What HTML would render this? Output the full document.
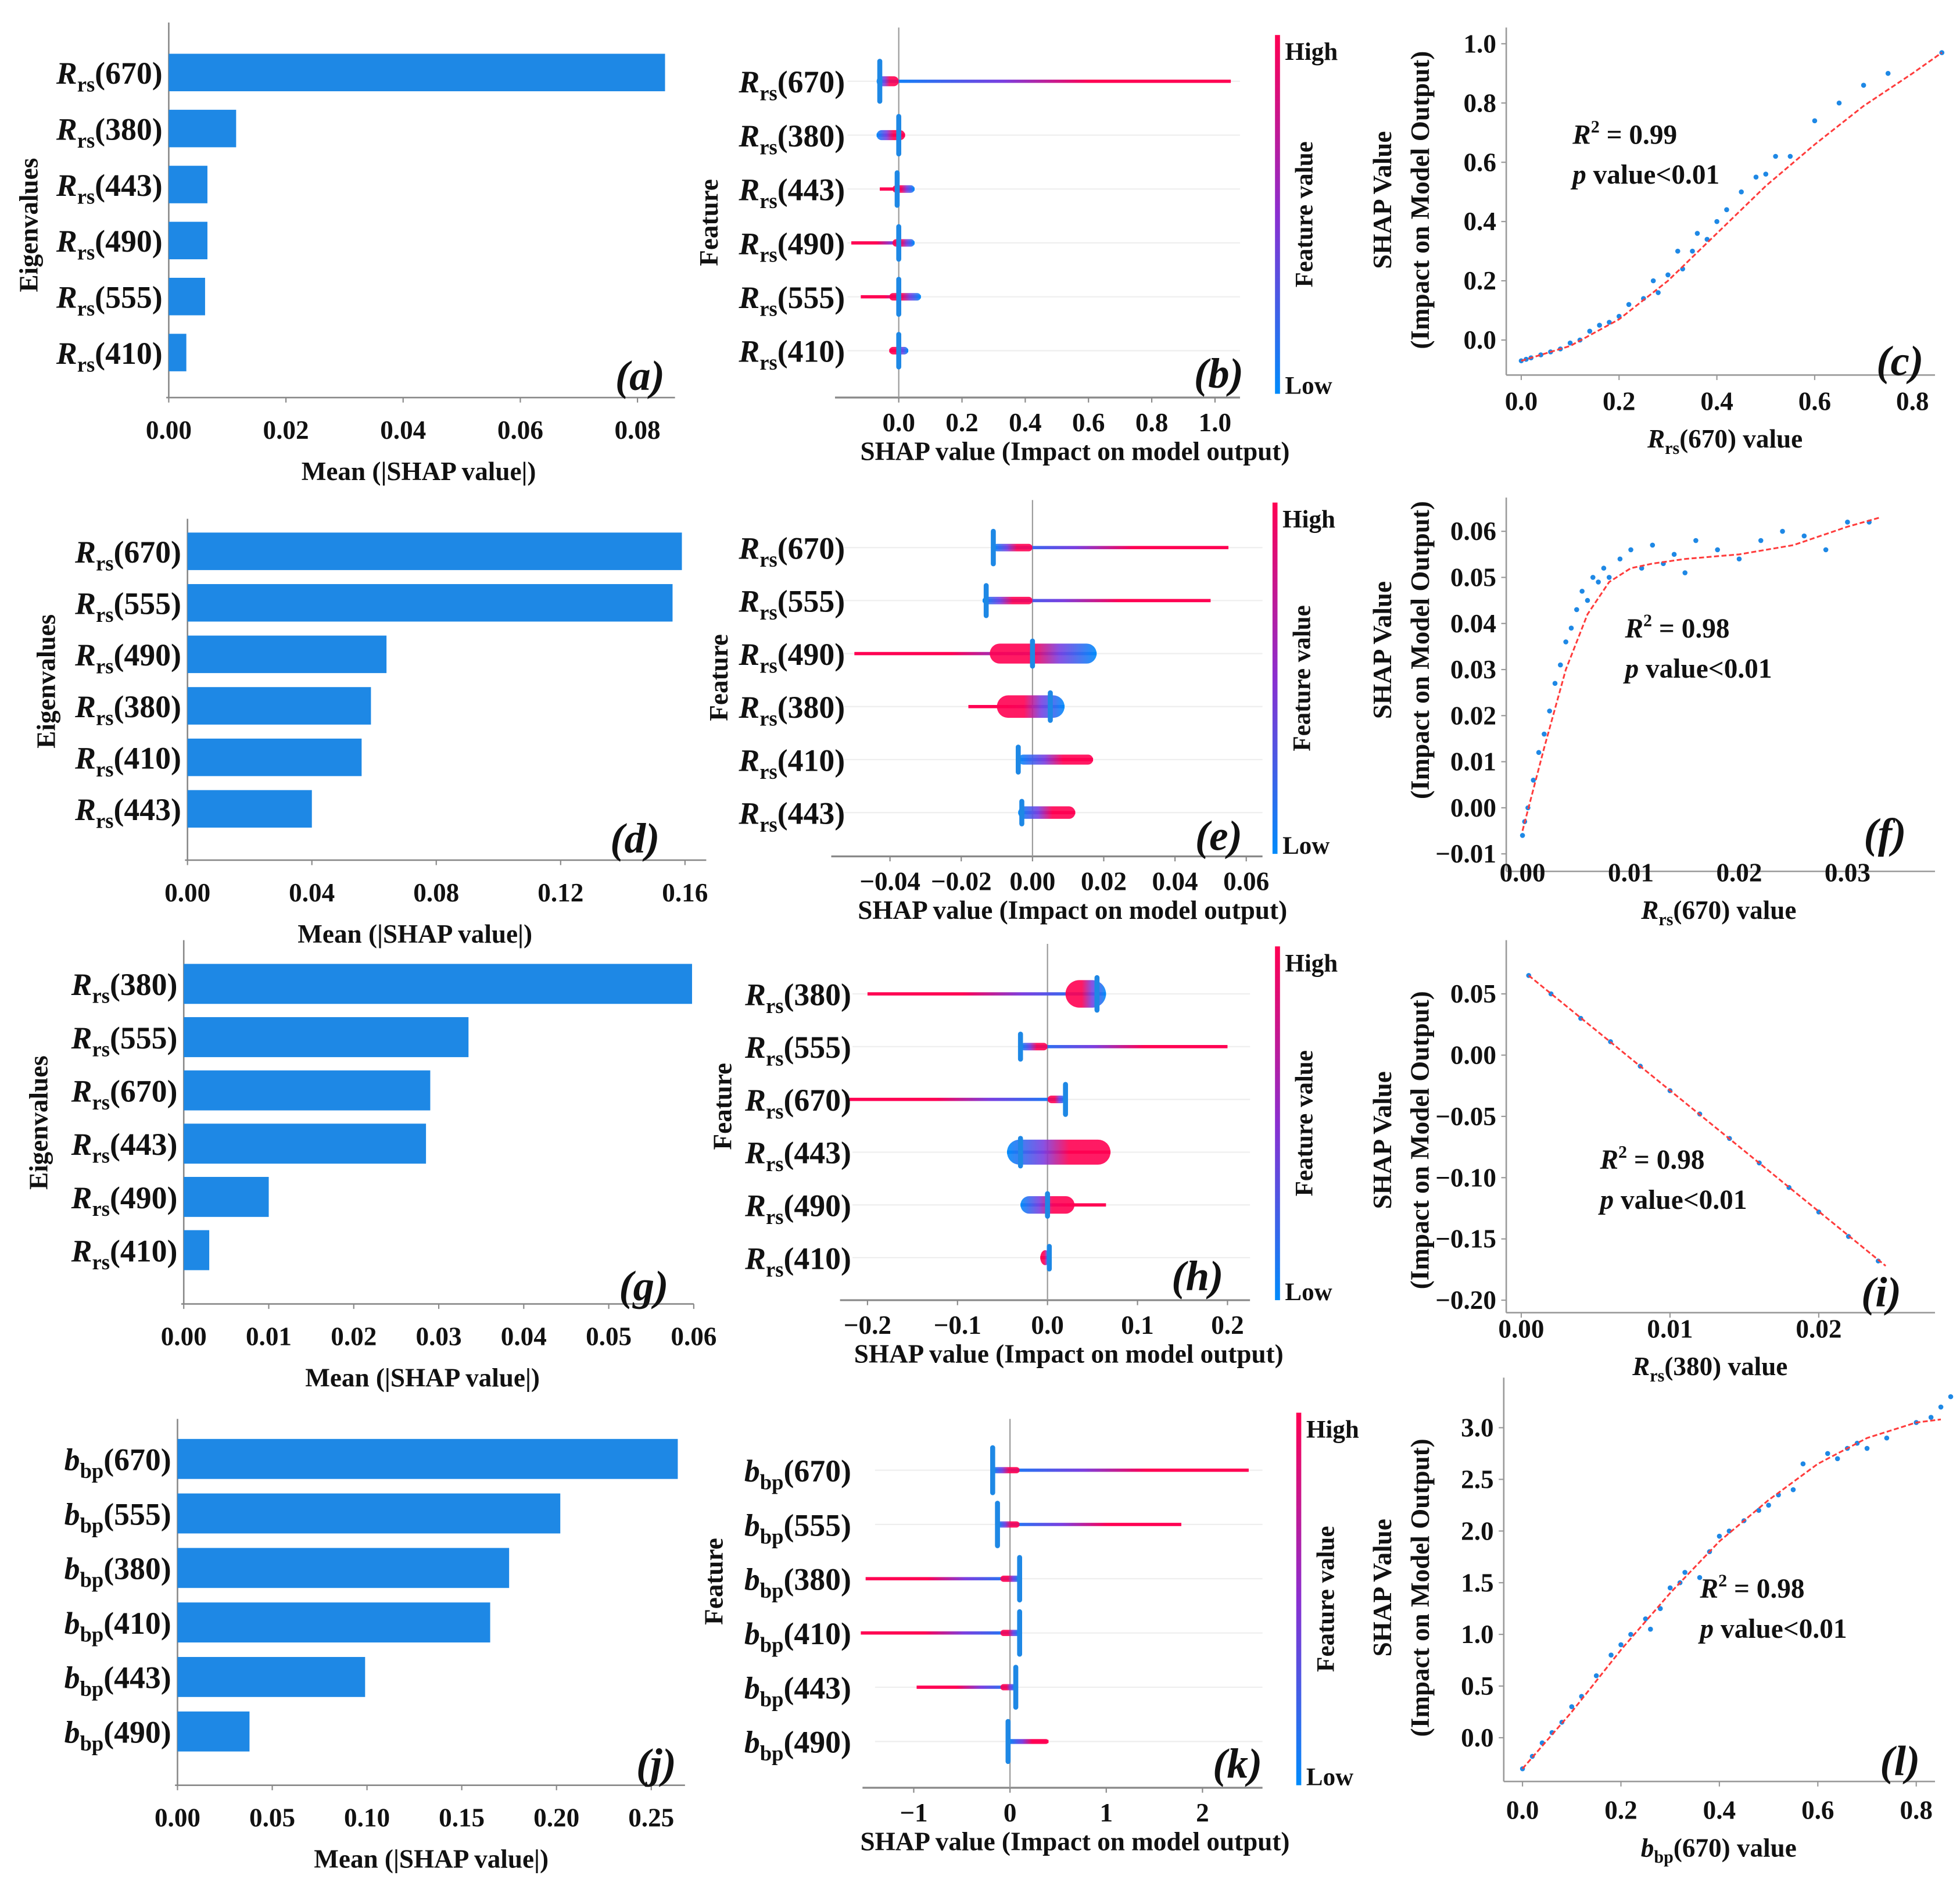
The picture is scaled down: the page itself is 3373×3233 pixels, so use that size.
<!DOCTYPE html>
<html><head><meta charset="utf-8"><style>
html,body{margin:0;padding:0;background:#fff}
svg{display:block}
text{font-family:"Liberation Serif",serif;font-weight:bold;fill:#111}
</style></head><body>
<svg id="fig" width="3373" height="3233" viewBox="0 0 1568 1503" preserveAspectRatio="none" xmlns="http://www.w3.org/2000/svg">
<defs>
<linearGradient id="cb" x1="0" y1="1" x2="0" y2="0"><stop offset="0" stop-color="#008bfb"/><stop offset="0.5" stop-color="#8a2fd0"/><stop offset="1" stop-color="#ff0052"/></linearGradient>
<linearGradient id="gR" x1="0" y1="0" x2="1" y2="0"><stop offset="0" stop-color="#008bfb"/><stop offset="0.35" stop-color="#7a3fe0"/><stop offset="0.6" stop-color="#ff0052"/><stop offset="1" stop-color="#ff0052"/></linearGradient>
<linearGradient id="gL" x1="0" y1="0" x2="1" y2="0"><stop offset="0" stop-color="#ff0052"/><stop offset="0.4" stop-color="#ff0052"/><stop offset="0.65" stop-color="#7a3fe0"/><stop offset="1" stop-color="#008bfb"/></linearGradient>
</defs>
</svg>
<script>
// ===== DATA =====
const barLabelsA=['670','380','443','490','555','410'];
const barValuesA=[0.0847,0.0115,0.0066,0.0066,0.0062,0.003];
const barTicksA=[0,0.02,0.04,0.06,0.08];
const barLabelsD=['670','555','490','380','410','443'];
const barValuesD=[0.159,0.156,0.064,0.059,0.056,0.040];
const barTicksD=[0,0.04,0.08,0.12,0.16];
const barLabelsG=['380','555','670','443','490','410'];
const barValuesG=[0.0598,0.0335,0.029,0.0285,0.010,0.003];
const barTicksG=[0,0.01,0.02,0.03,0.04,0.05,0.06];
const barLabelsJ=['670','555','380','410','443','490'];
const barValuesJ=[0.264,0.202,0.175,0.165,0.099,0.038];
const barTicksJ=[0,0.05,0.10,0.15,0.20,0.25];

// beeswarm rows: [min, max, spikeX, blobLo, blobHi, blobH, spikeH, redSide(1 right,-1 left)]
const beeLabelsB=['670','380','443','490','555','410'];
const beeRowsB=[[-0.06,1.05,-0.06,-0.07,0.0,8,36,1],[-0.07,0.02,0.0,-0.07,0.02,8,34,1],[-0.06,0.05,-0.005,-0.02,0.05,6,30,-1],[-0.15,0.05,0.0,-0.02,0.05,6,30,-1],[-0.12,0.07,0.0,-0.03,0.07,6,32,-1],[-0.03,0.03,0.0,-0.03,0.03,6,30,-1]];
const beeTicksB=[0,0.2,0.4,0.6,0.8,1.0];
const beeLabelsE=['670','555','490','380','410','443'];
const beeRowsE=[[-0.011,0.055,-0.011,-0.011,0.0,6,30,1],[-0.014,0.05,-0.013,-0.014,0.0,6,28,1],[-0.05,0.018,0.0,-0.012,0.018,16,24,-1],[-0.018,0.009,0.005,-0.01,0.009,18,26,-1],[-0.004,0.017,-0.004,-0.004,0.017,8,24,1],[-0.004,0.012,-0.003,-0.004,0.012,10,22,1]];
const beeTicksE=[-0.04,-0.02,0,0.02,0.04,0.06];
const beeTickTextE=['\u22120.04','\u22120.02','0.00','0.02','0.04','0.06'];
const beeLabelsH=['380','555','670','443','490','410'];
const beeRowsH=[[-0.2,0.065,0.055,0.02,0.065,22,30,-1],[-0.03,0.2,-0.03,-0.03,0.0,6,24,1],[-0.22,0.02,0.02,0.0,0.02,6,28,-1],[-0.045,0.07,-0.03,-0.045,0.07,20,26,1],[-0.03,0.065,0.0,-0.03,0.03,14,22,1],[-0.008,0.003,0.002,-0.008,0.003,12,22,-1]];
const beeTicksH=[-0.2,-0.1,0,0.1,0.2];
const beeTickTextH=['\u22120.2','\u22120.1','0.0','0.1','0.2'];
const beeLabelsK=['670','555','380','410','443','490'];
const beeRowsK=[[-0.18,2.48,-0.18,-0.18,0.1,5,40,1],[-0.13,1.78,-0.13,-0.13,0.1,5,38,1],[-1.5,0.1,0.1,-0.1,0.1,5,38,-1],[-1.55,0.1,0.1,-0.1,0.1,5,38,-1],[-0.97,0.06,0.06,-0.1,0.06,5,36,-1],[-0.02,0.4,-0.02,-0.02,0.4,4,36,1]];
const beeTicksK=[-1,0,1,2];
const beeTickTextK=['\u22121','0','1','2'];

// scatter panels
const scXc=[0,0.01,0.02,0.04,0.06,0.08,0.1,0.12,0.14,0.16,0.18,0.2,0.22,0.25,0.27,0.28,0.3,0.32,0.33,0.35,0.36,0.38,0.4,0.42,0.45,0.48,0.5,0.52,0.55,0.6,0.65,0.7,0.75,0.86];
const scYc=[-0.07,-0.065,-0.06,-0.05,-0.04,-0.03,-0.01,0.0,0.03,0.05,0.06,0.08,0.12,0.14,0.2,0.16,0.22,0.3,0.24,0.3,0.36,0.34,0.4,0.44,0.5,0.55,0.56,0.62,0.62,0.74,0.8,0.86,0.9,0.97];
const fitXc=[0,0.1,0.2,0.3,0.4,0.5,0.6,0.7,0.8,0.86];
const fitYc=[-0.07,-0.02,0.07,0.2,0.36,0.52,0.66,0.79,0.9,0.97];
const scXf=[0,0.0002,0.0005,0.001,0.0015,0.002,0.0025,0.003,0.0035,0.004,0.0045,0.005,0.0055,0.006,0.0065,0.007,0.0075,0.008,0.009,0.01,0.011,0.012,0.013,0.014,0.015,0.016,0.018,0.02,0.022,0.024,0.026,0.028,0.03,0.032];
const scYf=[-0.006,-0.003,0.0,0.006,0.012,0.016,0.021,0.027,0.031,0.036,0.039,0.043,0.047,0.045,0.05,0.049,0.052,0.05,0.054,0.056,0.052,0.057,0.053,0.055,0.051,0.058,0.056,0.054,0.058,0.06,0.059,0.056,0.062,0.062];
const fitXf=[0,0.002,0.004,0.006,0.008,0.01,0.012,0.015,0.02,0.025,0.03,0.033];
const fitYf=[-0.005,0.013,0.03,0.042,0.049,0.052,0.053,0.054,0.055,0.057,0.061,0.063];
const scXi=[0.0005,0.002,0.004,0.006,0.008,0.01,0.012,0.014,0.016,0.018,0.02,0.022,0.024];
const scYi=[0.065,0.05,0.03,0.011,-0.009,-0.029,-0.048,-0.068,-0.088,-0.108,-0.128,-0.148,-0.168];
const fitXi=[0.0005,0.0245];
const fitYi=[0.065,-0.172];
const scXl=[0,0.02,0.04,0.06,0.08,0.1,0.12,0.15,0.18,0.2,0.22,0.25,0.26,0.28,0.3,0.32,0.33,0.36,0.38,0.4,0.42,0.45,0.48,0.5,0.52,0.55,0.57,0.62,0.64,0.66,0.68,0.7,0.74,0.8,0.83,0.85,0.87];
const scYl=[-0.3,-0.18,-0.05,0.05,0.15,0.3,0.4,0.6,0.8,0.9,1.0,1.15,1.05,1.25,1.45,1.5,1.6,1.55,1.8,1.95,2.0,2.1,2.2,2.25,2.35,2.4,2.65,2.75,2.7,2.8,2.85,2.8,2.9,3.05,3.1,3.2,3.3];
const fitXl=[0,0.1,0.2,0.3,0.4,0.5,0.6,0.7,0.8,0.85];
const fitYl=[-0.3,0.25,0.85,1.4,1.9,2.3,2.65,2.9,3.05,3.08];

// ===== DRAWING =====
const NS='http://www.w3.org/2000/svg';
const svg=document.getElementById('fig');
function el(tag,attrs,name,parent){
  const e=document.createElementNS(NS,tag);
  for(const k in attrs)e.setAttribute(k,attrs[k]);
  
  
  (parent||svg).appendChild(e);return e;
}
function txt(x,y,s,size,anchor,name,extra){
  const t=el('text',Object.assign({x:x,y:y,'font-size':size,'text-anchor':anchor||'middle'},extra||{}),name);
  t.textContent=s;return t;
}
function featLabel(x,y,sym,sub,wl,size,name){
  const t=el('text',{x:x,y:y,'font-size':size,'text-anchor':'end'},name);
  const a=document.createElementNS(NS,'tspan');a.setAttribute('font-style','italic');a.textContent=sym;t.appendChild(a);
  const b=document.createElementNS(NS,'tspan');b.setAttribute('font-size',size*0.68);b.setAttribute('dy',size*0.25);b.textContent=sub;t.appendChild(b);
  const c=document.createElementNS(NS,'tspan');c.setAttribute('dy',-size*0.25);c.textContent='('+wl+')';t.appendChild(c);
  return t;
}
function panelLetter(x,y,l){
  txt(x,y,'('+l+')',34,'middle','panel-label-'+l,{'font-style':'italic'});
}
function linearScale(d0,d1,r0,r1){return v=>r0+(v-d0)/(d1-d0)*(r1-r0);}

function barPanel(o){
  const sx=linearScale(0,o.tv,o.x0,o.tx);
  el('line',{x1:o.x0,y1:o.top,x2:o.x0,y2:o.axisY,stroke:'#888','stroke-width':1.2},'y-axis-line-'+o.id);
  el('line',{x1:o.x0-2,y1:o.axisY,x2:o.xEnd,y2:o.axisY,stroke:'#888','stroke-width':1.2},'x-axis-line-'+o.id);
  o.labels.forEach((lb,i)=>{
    const y=o.y0+i*o.dy;
    el('rect',{x:o.x0,y:y-o.bh/2,width:sx(o.values[i])-o.x0,height:o.bh,fill:'#1e88e5'},'bar-'+o.id+'-'+lb);
    featLabel(o.x0-5,y+9,o.sym,o.sub,lb,25,'feature-label-'+o.id+'-'+lb);
  });
  o.ticks.forEach(t=>{
    el('line',{x1:sx(t),y1:o.axisY,x2:sx(t),y2:o.axisY+4,stroke:'#888'},'x-tick-'+o.id);
    txt(sx(t),o.axisY+33,t.toFixed(2),21,'middle','x-tick-label-'+o.id);
  });
  txt(o.titleX,o.axisY+66,'Mean (|SHAP value|)',21,'middle','x-axis-title-'+o.id);
  txt(o.ytX,o.ytY,'Eigenvalues',21,'middle','y-axis-title-'+o.id,{transform:'rotate(-90 '+o.ytX+' '+o.ytY+')'});
  panelLetter(o.lx,o.ly,o.id);
}
function beePanel(o){
  const sx=linearScale(0,o.tv,o.zero,o.tx);
  el('line',{x1:o.ax0,y1:o.axisY,x2:o.ax1,y2:o.axisY,stroke:'#888','stroke-width':1.5},'x-axis-line-'+o.id);
  el('line',{x1:o.zero,y1:o.top,x2:o.zero,y2:o.axisY,stroke:'#999','stroke-width':1},'zero-line-'+o.id);
  o.labels.forEach((lb,i)=>{
    const y=o.y0+i*o.dy, r=o.rows[i];
    el('line',{x1:o.ax0+10,y1:y,x2:o.ax1,y2:y,stroke:'#eee','stroke-width':1},'row-guide-'+o.id+'-'+lb);
    const g=r[7]>0?'url(#gR)':'url(#gL)';
    el('rect',{x:sx(r[0]),y:y-1.3,width:Math.max(2,sx(r[1])-sx(r[0])),height:2.6,fill:g},'beeswarm-tail-'+o.id+'-'+lb);
    el('rect',{x:sx(r[3]),y:y-r[5]/2,width:Math.max(3,sx(r[4])-sx(r[3])),height:r[5],rx:r[5]/2,fill:g,opacity:0.9},'beeswarm-blob-'+o.id+'-'+lb);
    el('rect',{x:sx(r[2])-2,y:y-r[6]/2,width:4,height:r[6],rx:2,fill:'#1e88e5'},'beeswarm-spike-'+o.id+'-'+lb);
    featLabel(o.lblX,y+9,o.sym,o.sub,lb,25,'feature-label-'+o.id+'-'+lb);
  });
  o.ticks.forEach((t,i)=>{
    el('line',{x1:sx(t),y1:o.axisY,x2:sx(t),y2:o.axisY+4,stroke:'#888'},'x-tick-'+o.id);
    txt(sx(t),o.axisY+27,o.tt?o.tt[i]:t.toFixed(1),21,'middle','x-tick-label-'+o.id);
  });
  txt(o.titleX,o.axisY+50,'SHAP value (Impact on model output)',21,'middle','x-axis-title-'+o.id);
  txt(o.ytX,o.ytY,'Feature',21,'middle','y-axis-title-'+o.id,{transform:'rotate(-90 '+o.ytX+' '+o.ytY+')'});
  el('rect',{x:o.cbX,y:o.cbT,width:4,height:o.cbB-o.cbT,fill:'url(#cb)'},'colorbar-'+o.id);
  txt(o.cbX+8,o.cbT+20,'High',20,'start','colorbar-high-'+o.id);
  txt(o.cbX+8,o.cbB,'Low',20,'start','colorbar-low-'+o.id);
  const fx=o.cbX+30, fy=(o.cbT+o.cbB)/2;
  txt(fx,fy,'Feature value',20,'middle','colorbar-title-'+o.id,{transform:'rotate(-90 '+fx+' '+fy+')'});
  panelLetter(o.lx,o.ly,o.id);
}
function scatterPanel(o){
  const sx=linearScale(o.xd[0],o.xd[1],o.xr[0],o.xr[1]);
  const sy=linearScale(o.yd[0],o.yd[1],o.yr[0],o.yr[1]);
  el('line',{x1:o.left,y1:o.top,x2:o.left,y2:o.bottom,stroke:'#999','stroke-width':1.2},'y-axis-line-'+o.id);
  el('line',{x1:o.left,y1:o.bottom,x2:o.right,y2:o.bottom,stroke:'#999','stroke-width':1.2},'x-axis-line-'+o.id);
  o.sx.forEach((x,i)=>{el('circle',{cx:sx(x),cy:sy(o.sy[i]),r:2,fill:'#1e88e5'},'point-'+o.id);});
  el('polyline',{points:o.fx.map((x,i)=>sx(x)+','+sy(o.fy[i])).join(' '),fill:'none',stroke:'#ff3b3b','stroke-width':1.4,'stroke-dasharray':'4 2'},'fit-line-'+o.id);
  o.xt.forEach((t,i)=>{
    el('line',{x1:sx(t),y1:o.bottom,x2:sx(t),y2:o.bottom+4,stroke:'#999'},'x-tick-'+o.id);
    txt(sx(t),o.xtY,o.xtt[i],21,'middle','x-tick-label-'+o.id);
  });
  o.yt.forEach((t,i)=>{
    el('line',{x1:o.left-4,y1:sy(t),x2:o.left,y2:sy(t),stroke:'#999'},'y-tick-'+o.id);
    txt(o.left-8,sy(t)+7,o.ytt[i],21,'end','y-tick-label-'+o.id);
  });
  const t=el('text',{x:o.titleX,y:o.xtY+30,'font-size':21,'text-anchor':'middle'},'x-axis-title-'+o.id);
  const a=document.createElementNS(NS,'tspan');a.setAttribute('font-style','italic');a.textContent=o.sym;t.appendChild(a);
  const b=document.createElementNS(NS,'tspan');b.setAttribute('font-size',14);b.setAttribute('dy',5);b.textContent=o.sub;t.appendChild(b);
  const c=document.createElementNS(NS,'tspan');c.setAttribute('dy',-5);c.textContent='('+o.wl+') value';t.appendChild(c);
  txt(1113,o.ytY,'SHAP Value',21,'middle','y-axis-title-'+o.id,{transform:'rotate(-90 1113 '+o.ytY+')'});
  txt(1143,o.ytY,'(Impact on Model Output)',21,'middle','y-axis-subtitle-'+o.id,{transform:'rotate(-90 1143 '+o.ytY+')'});
  const r=el('text',{x:o.rx,y:o.ry,'font-size':22,'text-anchor':'start'},'r-squared-'+o.id);
  r.innerHTML='<tspan font-style="italic">R</tspan><tspan font-size="14" dy="-9">2</tspan><tspan dy="9"> = '+o.r2+'</tspan>';
  const p=el('text',{x:o.rx,y:o.ry+32,'font-size':22,'text-anchor':'start'},'p-value-'+o.id);
  p.innerHTML='<tspan font-style="italic">p</tspan> value&lt;0.01';
  panelLetter(o.lx,o.ly,o.id);
}

// Row 1
barPanel({id:'a',labels:barLabelsA,values:barValuesA,ticks:barTicksA,x0:135,tv:0.08,tx:510,xEnd:540,top:18,axisY:318,y0:58,dy:44.8,bh:30,sym:'R',sub:'rs',titleX:335,ytX:30,ytY:180,lx:512,ly:312});
beePanel({id:'b',labels:beeLabelsB,rows:beeRowsB,ticks:beeTicksB,zero:719,tv:1.0,tx:972,ax0:668,ax1:992,top:22,axisY:318,y0:65,dy:43.1,lblX:676,sym:'R',sub:'rs',titleX:860,ytX:574,ytY:178,cbX:1020,cbT:28,cbB:315,lx:975,ly:310});
scatterPanel({id:'c',xd:[0,0.8],xr:[1217,1530],yd:[0,1.0],yr:[272,35],left:1205,right:1548,top:22,bottom:300,sx:scXc,sy:scYc,fx:fitXc,fy:fitYc,xt:[0,0.2,0.4,0.6,0.8],xtt:['0.0','0.2','0.4','0.6','0.8'],yt:[0,0.2,0.4,0.6,0.8,1.0],ytt:['0.0','0.2','0.4','0.6','0.8','1.0'],xtY:328,titleX:1380,sym:'R',sub:'rs',wl:'670',ytY:160,rx:1258,ry:115,r2:'0.99',lx:1520,ly:300});
// Row 2
barPanel({id:'d',labels:barLabelsD,values:barValuesD,ticks:barTicksD,x0:150,tv:0.16,tx:548,xEnd:565,top:415,axisY:688,y0:441,dy:41.2,bh:30,sym:'R',sub:'rs',titleX:332,ytX:44,ytY:545,lx:508,ly:682});
beePanel({id:'e',labels:beeLabelsE,rows:beeRowsE,ticks:beeTicksE,tt:beeTickTextE,zero:826,tv:0.02,tx:883,ax0:665,ax1:1010,top:400,axisY:685,y0:438,dy:42.4,lblX:676,sym:'R',sub:'rs',titleX:858,ytX:582,ytY:542,cbX:1018,cbT:402,cbB:683,lx:975,ly:680});
scatterPanel({id:'f',xd:[0,0.03],xr:[1218,1478],yd:[-0.01,0.06],yr:[683,425],left:1205,right:1548,top:398,bottom:697,sx:scXf,sy:scYf,fx:fitXf,fy:fitYf,xt:[0,0.01,0.02,0.03],xtt:['0.00','0.01','0.02','0.03'],yt:[-0.01,0,0.01,0.02,0.03,0.04,0.05,0.06],ytt:['\u22120.01','0.00','0.01','0.02','0.03','0.04','0.05','0.06'],xtY:705,titleX:1375,sym:'R',sub:'rs',wl:'670',ytY:520,rx:1300,ry:510,r2:'0.98',lx:1508,ly:678});
// Row 3
barPanel({id:'g',labels:barLabelsG,values:barValuesG,ticks:barTicksG,x0:147,tv:0.06,tx:555,xEnd:555,top:752,axisY:1043,y0:787,dy:42.6,bh:32,sym:'R',sub:'rs',titleX:338,ytX:38,ytY:898,lx:515,ly:1040});
beePanel({id:'h',labels:beeLabelsH,rows:beeRowsH,ticks:beeTicksH,tt:beeTickTextH,zero:838,tv:0.1,tx:910,ax0:672,ax1:1000,top:755,axisY:1040,y0:795,dy:42.2,lblX:681,sym:'R',sub:'rs',titleX:855,ytX:585,ytY:885,cbX:1020,cbT:757,cbB:1040,lx:958,ly:1032});
scatterPanel({id:'i',xd:[0,0.02],xr:[1217,1455],yd:[-0.2,0.05],yr:[1040,795],left:1205,right:1548,top:752,bottom:1050,sx:scXi,sy:scYi,fx:fitXi,fy:fitYi,xt:[0,0.01,0.02],xtt:['0.00','0.01','0.02'],yt:[-0.2,-0.15,-0.1,-0.05,0,0.05],ytt:['\u22120.20','\u22120.15','\u22120.10','\u22120.05','0.00','0.05'],xtY:1070,titleX:1368,sym:'R',sub:'rs',wl:'380',ytY:912,rx:1280,ry:935,r2:'0.98',lx:1505,ly:1045});
// Row 4
barPanel({id:'j',labels:barLabelsJ,values:barValuesJ,ticks:barTicksJ,x0:142,tv:0.25,tx:521,xEnd:548,top:1135,axisY:1428,y0:1167,dy:43.6,bh:32,sym:'b',sub:'bp',titleX:345,ytX:0,ytY:-100,lx:525,ly:1422});
beePanel({id:'k',labels:beeLabelsK,rows:beeRowsK,ticks:beeTicksK,tt:beeTickTextK,zero:808,tv:1,tx:885,ax0:690,ax1:1010,top:1135,axisY:1430,y0:1176,dy:43.4,lblX:681,sym:'b',sub:'bp',titleX:860,ytX:578,ytY:1265,cbX:1037,cbT:1130,cbB:1428,lx:990,ly:1422});
scatterPanel({id:'l',xd:[0,0.8],xr:[1218,1533],yd:[0,3.0],yr:[1390,1142],left:1203,right:1548,top:1102,bottom:1425,sx:scXl,sy:scYl,fx:fitXl,fy:fitYl,xt:[0,0.2,0.4,0.6,0.8],xtt:['0.0','0.2','0.4','0.6','0.8'],yt:[0,0.5,1.0,1.5,2.0,2.5,3.0],ytt:['0.0','0.5','1.0','1.5','2.0','2.5','3.0'],xtY:1455,titleX:1375,sym:'b',sub:'bp',wl:'670',ytY:1270,rx:1360,ry:1278,r2:'0.98',lx:1520,ly:1420});
</script>
</body></html>
